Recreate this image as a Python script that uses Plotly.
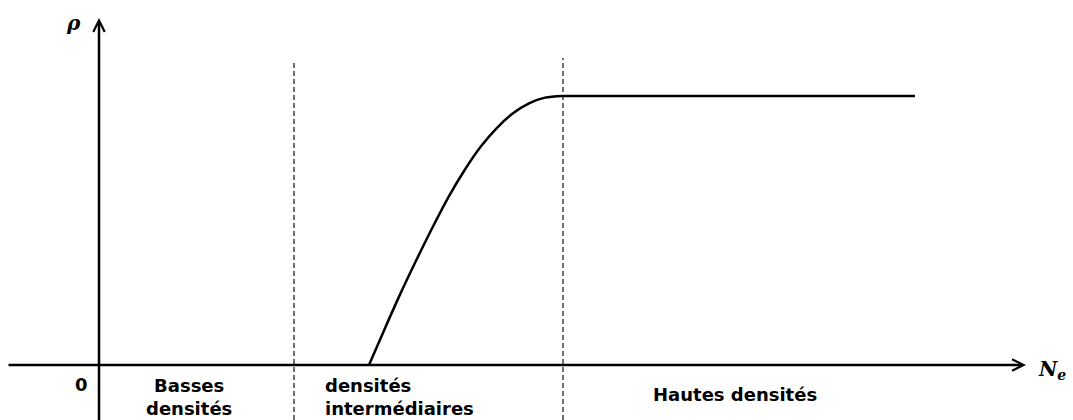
import plotly.graph_objects as go

# Curve rho(Ne) (arbitrary units, plateau = 1)
ne_values = [2.70, 2.86, 3.02, 3.18, 3.34, 3.50, 3.66, 3.82, 3.98, 4.14, 4.30, 4.46, 4.64, 8.16]
rho_values = [0.000, 0.137, 0.270, 0.395, 0.515, 0.628, 0.727, 0.813, 0.882, 0.936, 0.973, 0.994, 1.000, 1.000]

# Regime boundaries (dashed lines)
boundaries = [1.95, 4.64]
boundary_tops = [1.134, 1.141]

# Region labels: (text, x, y_top, anchor)
region_labels = [
    ("Basses<br>densités", 0.90, -0.030, "center"),
    ("densités<br>intermédiaires", 2.24, -0.030, "left"),
    ("Hautes densités", 6.36, -0.065, "center"),
]

X_RANGE = [-0.99, 9.74]
Y_RANGE = [-0.2045, 1.357]

LABEL_FONT = dict(family="DejaVu Sans", size=18, color="black")
MATH_FONT = dict(family="DejaVu Serif", size=20, color="black")

fig = go.Figure()

# rising part (smooth) and plateau (straight)
fig.add_trace(go.Scatter(
    x=ne_values[:-1], y=rho_values[:-1],
    mode="lines",
    line=dict(color="black", width=2.5, shape="spline", smoothing=0.8),
    hoverinfo="skip",
    showlegend=False,
))
fig.add_trace(go.Scatter(
    x=ne_values[-2:], y=rho_values[-2:],
    mode="lines",
    line=dict(color="black", width=2.5),
    hoverinfo="skip",
    showlegend=False,
))

# dashed separators
for bx, top in zip(boundaries, boundary_tops):
    fig.add_shape(
        type="line", xref="x", yref="y",
        x0=bx, x1=bx, y0=Y_RANGE[0], y1=top,
        line=dict(color="#111111", width=1.2, dash="5px,3px"),
    )

# axes drawn as arrows
axis_arrows = [
    dict(x=9.27, y=0, ax=-0.92, ay=0),      # Ne axis
    dict(x=0, y=1.29, ax=0, ay=-0.21),      # rho axis
]
for a in axis_arrows:
    fig.add_annotation(
        x=a["x"], y=a["y"], ax=a["ax"], ay=a["ay"],
        xref="x", yref="y", axref="x", ayref="y",
        text="", showarrow=True,
        arrowhead=5, arrowsize=0.9, arrowwidth=2.5, arrowcolor="black",
        standoff=0, startstandoff=0,
    )

for text, x, y, anchor in region_labels:
    fig.add_annotation(
        x=x, y=y, xref="x", yref="y",
        text="<b>" + text + "</b>", showarrow=False,
        xanchor=anchor, yanchor="top", align=anchor,
        font=LABEL_FONT,
    )

# origin and axis names
fig.add_annotation(x=-0.18, y=-0.074, xref="x", yref="y", text="<b>0</b>",
                   showarrow=False, font=LABEL_FONT)
fig.add_annotation(x=-0.26, y=1.271, xref="x", yref="y", text="<b><i>ρ</i></b>",
                   showarrow=False, font=MATH_FONT)
fig.add_annotation(x=9.37, y=-0.02, xref="x", yref="y",
                   text="<b><i>N</i></b><sub><b><i>e</i></b></sub>",
                   showarrow=False, xanchor="left", font=MATH_FONT)

fig.update_xaxes(visible=False, range=X_RANGE, fixedrange=True)
fig.update_yaxes(visible=False, range=Y_RANGE, fixedrange=True)

fig.update_layout(
    width=1073, height=420,
    margin=dict(l=0, r=0, t=0, b=0),
    plot_bgcolor="white", paper_bgcolor="white",
    showlegend=False,
)

fig.write_html("out.html", config={"displayModeBar": False},
               post_script="document.body.style.margin='0';document.body.style.overflow='hidden';")
